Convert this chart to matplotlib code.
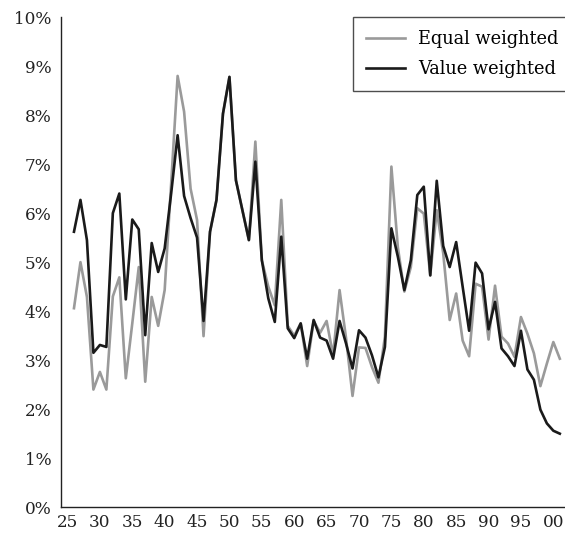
import matplotlib
matplotlib.use('Agg')
import matplotlib.pyplot as plt
import numpy as np

years = np.arange(1926, 2002)

equal_weighted = [4.06, 5.00, 4.29, 2.40, 2.76, 2.40, 4.30, 4.69, 2.63, 3.75,
                  4.90, 2.56, 4.29, 3.70, 4.43, 6.60, 8.80, 8.07, 6.50, 5.86,
                  3.49, 5.62, 6.27, 8.03, 8.78, 6.67, 6.06, 5.45, 7.46, 5.04,
                  4.50, 4.12, 6.27, 3.70, 3.50, 3.75, 2.88, 3.80, 3.56, 3.80,
                  3.10, 4.43, 3.45, 2.27, 3.26, 3.25, 2.86, 2.54, 3.48, 6.95,
                  5.30, 4.40, 4.90, 6.10, 5.99, 4.73, 6.06, 5.18, 3.82, 4.36,
                  3.40, 3.08, 4.56, 4.50, 3.42, 4.52, 3.48, 3.34, 3.07, 3.88,
                  3.54, 3.14, 2.47, 2.93, 3.37, 3.03]

value_weighted = [5.62, 6.27, 5.45, 3.15, 3.31, 3.27, 6.00, 6.40, 4.24, 5.87,
                  5.67, 3.51, 5.39, 4.80, 5.28, 6.40, 7.59, 6.35, 5.90, 5.50,
                  3.80, 5.62, 6.27, 8.03, 8.78, 6.67, 6.06, 5.45, 7.05, 5.04,
                  4.26, 3.78, 5.52, 3.65, 3.45, 3.75, 3.03, 3.82, 3.46, 3.40,
                  3.03, 3.80, 3.34, 2.83, 3.61, 3.46, 3.10, 2.65, 3.27, 5.69,
                  5.11, 4.43, 5.04, 6.37, 6.54, 4.73, 6.66, 5.33, 4.90, 5.41,
                  4.50, 3.60, 4.99, 4.77, 3.63, 4.19, 3.24, 3.08, 2.88, 3.60,
                  2.81, 2.60, 1.99, 1.71, 1.56, 1.50]

tick_years = np.arange(1925, 2001, 5)
tick_labels = ['%02d' % (y % 100) for y in tick_years]

plt.rcParams['font.family'] = ['DejaVu Serif']

fig = plt.figure(figsize=(5.65, 5.35), dpi=100)
ax = fig.add_axes([0.108, 0.052, 0.892, 0.916])

ax.plot(years, equal_weighted, color='#9a9a9a', lw=1.9, label='Equal weighted')
ax.plot(years, value_weighted, color='#1a1a1a', lw=1.9, label='Value weighted')

ax.set_xlim(1924.0, 2001.8)
ax.set_ylim(0, 10)
ax.set_xticks(tick_years)
ax.set_xticklabels(tick_labels)
ax.set_yticks(range(0, 11))
ax.set_yticklabels(['%d%%' % v for v in range(0, 11)])
ax.tick_params(length=0, labelsize=12.2, colors='#222222', pad=5)
ax.tick_params(axis='y', pad=7)

for s in ['top', 'right']:
    ax.spines[s].set_visible(False)
for s in ['left', 'bottom']:
    ax.spines[s].set_linewidth(1.0)
    ax.spines[s].set_color('#222222')

leg = ax.legend(loc='upper right', bbox_to_anchor=(1.014, 1.0), fontsize=12.8,
                frameon=True, fancybox=False, edgecolor='#222222',
                handlelength=2.2, handletextpad=0.75, borderaxespad=0.0,
                borderpad=0.75, labelspacing=0.65)
leg.get_frame().set_linewidth(1.0)

plt.savefig('out.png', dpi=100)
